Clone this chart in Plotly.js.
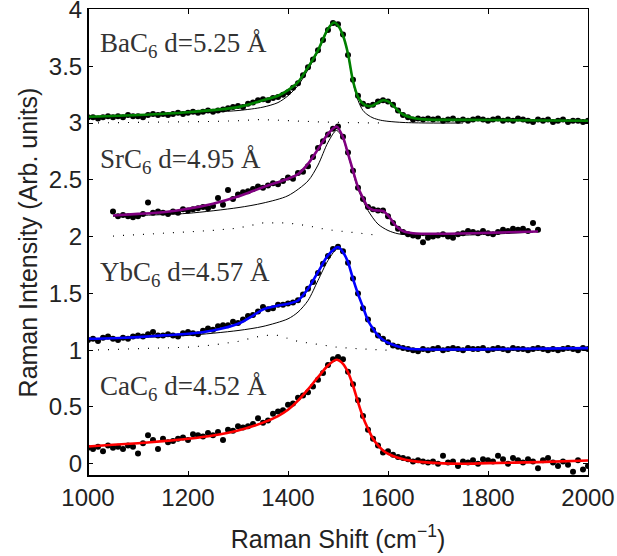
<!DOCTYPE html>
<html>
<head>
<meta charset="utf-8">
<script src="https://cdn.plot.ly/plotly-3.0.1.min.js"></script>
<style>html,body{margin:0;padding:0;background:#fff;}#chart{width:617px;height:556px;}</style>
</head>
<body>
<div id="chart"></div>
<script>
// ---------- data ----------
const gridShift = [1000,1010,1020,1030,1040,1050,1060,1070,1080,1090,1100,1110,1120,1130,1140,1150,1160,1170,1180,1190,1200,1210,1220,1230,1240,1250,1260,1270,1280,1290,1300,1310,1320,1330,1340,1350,1360,1370,1380,1390,1400,1410,1420,1430,1440,1450,1460,1470,1480,1490,1500,1510,1520,1530,1540,1550,1560,1570,1580,1590,1600,1610,1620,1630,1640,1650,1660,1670,1680,1690,1700,1710,1720,1730,1740,1750,1760,1770,1780,1790,1800,1810,1820,1830,1840,1850,1860,1870,1880,1890,1900,1910,1920,1930,1940,1950,1960,1970,1980,1990,2000];

// BaC6
const baData = [3.05,3.05,3.04,3.05,3.06,3.05,3.06,3.05,3.07,3.06,3.06,3.05,3.07,3.08,3.07,3.08,3.07,3.08,3.09,3.08,3.09,3.10,3.09,3.10,3.11,3.10,3.11,3.12,3.13,3.14,3.15,3.14,3.17,3.18,3.20,3.21,3.20,3.22,3.23,3.25,3.27,3.31,3.35,3.42,3.49,3.56,3.64,3.73,3.82,3.88,3.87,3.78,3.60,3.38,3.24,3.17,3.15,3.16,3.19,3.20,3.19,3.16,3.11,3.07,3.05,3.03,3.04,3.03,3.04,3.03,3.04,3.02,3.03,3.04,3.02,3.03,3.02,3.03,3.04,3.03,3.02,3.03,3.04,3.02,3.03,3.02,3.04,3.03,3.02,3.01,3.03,3.02,3.03,3.01,3.02,3.03,3.01,3.02,3.02,3.01,3.02];
const baFitX = [1000,1100,1200,1300,1350,1380,1400,1420,1440,1460,1480,1492,1500,1510,1520,1530,1540,1550,1560,1570,1580,1590,1600,1610,1620,1630,1650,1680,1750,1850,2000];
const baFitY = [3.055,3.07,3.095,3.14,3.2,3.24,3.29,3.36,3.49,3.64,3.83,3.885,3.86,3.77,3.61,3.37,3.23,3.17,3.15,3.155,3.18,3.2,3.19,3.155,3.11,3.075,3.045,3.03,3.028,3.025,3.02];
const baMainX = [1000,1100,1200,1300,1350,1380,1400,1420,1440,1460,1480,1492,1500,1510,1520,1530,1540,1550,1560,1570,1585,1600,1630,1680,1750];
const baMainY = [3.045,3.06,3.087,3.11,3.14,3.18,3.24,3.33,3.47,3.63,3.82,3.88,3.86,3.77,3.60,3.36,3.20,3.11,3.07,3.045,3.025,3.015,3.005,3.0,3.0];
const baSideX = [1000,1100,1200,1250,1300,1340,1380,1420,1460,1500,1550,1590];
const baSideY = [3.0,3.003,3.008,3.014,3.02,3.03,3.025,3.015,3.01,3.005,3.002,3.0];

// SrC6
const srShift = [1050,1060,1070,1080,1090,1100,1110,1120,1130,1140,1150,1160,1170,1180,1190,1200,1210,1220,1230,1240,1250,1260,1270,1280,1290,1300,1310,1320,1330,1340,1350,1360,1370,1380,1390,1400,1410,1420,1430,1440,1450,1460,1470,1480,1490,1500,1510,1520,1530,1540,1550,1560,1570,1580,1590,1600,1610,1620,1630,1640,1650,1660,1670,1680,1690,1700,1710,1720,1730,1740,1750,1760,1770,1780,1790,1800,1810,1820,1830,1840,1850,1860,1870,1880,1890,1900];
const srData = [2.22,2.18,2.19,2.18,2.17,2.18,2.20,2.30,2.21,2.22,2.21,2.20,2.22,2.21,2.24,2.23,2.24,2.25,2.26,2.25,2.27,2.34,2.28,2.41,2.33,2.37,2.39,2.40,2.42,2.44,2.43,2.45,2.47,2.46,2.49,2.52,2.51,2.56,2.57,2.62,2.70,2.78,2.84,2.90,2.95,2.97,2.88,2.74,2.58,2.43,2.33,2.26,2.24,2.23,2.23,2.18,2.12,2.07,2.04,2.02,2.01,2.00,1.95,1.99,2.00,2.01,2.02,2.00,1.99,2.02,2.03,2.05,2.04,2.03,2.05,2.03,2.02,2.04,2.06,2.05,2.07,2.06,2.07,2.05,2.12,2.06];
const srFitX = [1050,1100,1150,1200,1250,1300,1350,1400,1420,1440,1460,1480,1497,1510,1520,1530,1540,1550,1560,1570,1580,1590,1600,1610,1620,1630,1650,1700,1800,1900];
const srFitY = [2.186,2.20,2.215,2.245,2.29,2.353,2.435,2.51,2.55,2.64,2.77,2.905,2.97,2.875,2.73,2.58,2.435,2.34,2.26,2.235,2.23,2.225,2.186,2.127,2.077,2.048,2.03,2.025,2.033,2.045];
const srMainX = [1050,1100,1200,1300,1350,1400,1440,1460,1480,1497,1510,1520,1540,1560,1580,1600,1620,1650,1700,1800,1890];
const srMainY = [2.18,2.186,2.205,2.255,2.295,2.36,2.49,2.63,2.83,2.935,2.86,2.72,2.42,2.23,2.11,2.054,2.025,2.012,2.008,2.02,2.04];
const srSideX = [1050,1100,1150,1200,1250,1300,1350,1400,1440,1480,1520,1560,1585];
const srSideY = [2.005,2.016,2.027,2.04,2.054,2.075,2.12,2.12,2.095,2.06,2.04,2.02,2.01];

// YbC6
const ybData = [1.09,1.10,1.08,1.11,1.12,1.10,1.09,1.11,1.10,1.12,1.13,1.12,1.14,1.16,1.13,1.13,1.14,1.13,1.12,1.15,1.16,1.15,1.14,1.17,1.19,1.18,1.21,1.22,1.22,1.25,1.24,1.27,1.30,1.31,1.34,1.38,1.36,1.37,1.40,1.40,1.41,1.42,1.44,1.49,1.54,1.60,1.68,1.76,1.83,1.89,1.91,1.87,1.77,1.63,1.50,1.37,1.27,1.18,1.13,1.10,1.07,1.04,1.03,1.02,1.01,1.00,0.99,1.01,1.00,1.01,1.02,1.00,1.01,1.02,1.01,1.00,1.02,1.01,1.01,1.02,1.00,1.01,1.02,1.01,1.00,1.02,1.01,1.01,1.00,1.01,1.02,1.01,1.00,1.01,1.00,1.01,1.02,1.01,1.00,1.02,1.01];
const ybFitX = [1000,1050,1100,1150,1200,1250,1300,1330,1350,1380,1400,1420,1440,1460,1480,1500,1510,1520,1530,1540,1550,1560,1570,1580,1590,1600,1620,1640,1700,1850,2000];
const ybFitY = [1.10,1.105,1.115,1.13,1.144,1.173,1.232,1.305,1.358,1.393,1.408,1.437,1.54,1.687,1.834,1.907,1.863,1.775,1.628,1.496,1.379,1.261,1.188,1.129,1.092,1.065,1.033,1.012,1.006,1.01,1.018];
const ybMainX = [1000,1100,1200,1300,1350,1400,1420,1440,1460,1480,1500,1510,1520,1530,1540,1550,1560,1570,1580,1590,1600,1620,1640,1700,2000];
const ybMainY = [1.094,1.11,1.13,1.173,1.209,1.276,1.335,1.437,1.614,1.79,1.90,1.86,1.77,1.625,1.49,1.375,1.257,1.184,1.125,1.088,1.06,1.028,1.008,1.0,1.005];
const ybSideX = [1000,1100,1200,1250,1300,1350,1380,1420,1460,1500,1550,1600];
const ybSideY = [1.0,1.01,1.026,1.045,1.077,1.13,1.13,1.077,1.048,1.025,1.01,1.0];

// CaC6
const caData = [0.14,0.13,0.15,0.11,0.16,0.14,0.15,0.13,0.16,0.15,0.09,0.18,0.25,0.21,0.13,0.22,0.19,0.20,0.22,0.23,0.21,0.26,0.25,0.24,0.27,0.25,0.28,0.21,0.30,0.29,0.33,0.32,0.33,0.35,0.40,0.36,0.38,0.44,0.46,0.47,0.52,0.53,0.58,0.60,0.63,0.68,0.74,0.80,0.87,0.92,0.94,0.92,0.81,0.70,0.56,0.42,0.30,0.22,0.16,0.10,0.11,0.08,0.06,0.05,0.04,0.02,0.03,0.02,0.01,0.02,0.00,0.07,0.01,0.02,-0.02,0.02,0.01,0.03,0.00,0.04,0.03,0.02,0.07,0.04,0.00,0.05,0.03,0.01,0.04,0.02,-0.04,0.03,0.05,0.01,-0.02,0.02,-0.01,-0.07,0.03,-0.05,-0.02];
const caFitX = [1000,1050,1100,1150,1200,1250,1300,1350,1380,1400,1420,1440,1460,1480,1497,1510,1520,1530,1540,1550,1560,1570,1580,1590,1600,1620,1650,1700,1750,1800,1900,2000];
const caFitY = [0.152,0.167,0.181,0.199,0.22,0.249,0.293,0.362,0.42,0.475,0.555,0.655,0.762,0.865,0.915,0.88,0.806,0.689,0.542,0.41,0.308,0.22,0.161,0.117,0.088,0.053,0.023,0.005,0.0,0.005,0.014,0.029];

const labels = ['BaC<sub>6</sub> d=5.25 Å','SrC<sub>6</sub> d=4.95 Å','YbC<sub>6</sub> d=4.57 Å','CaC<sub>6</sub> d=4.52 Å'];
const labelY = [3.69,2.67,1.67,0.665];
const xTicks = [1000,1200,1400,1600,1800,2000];
const yTicks = [0,0.5,1,1.5,2,2.5,3,3.5,4];
const yTickText = ['0','0.5','1','1.5','2','2.5','3','3.5','4'];

// ---------- traces ----------
const traces = [];
function dotted(x,y){ traces.push({x:x,y:y,mode:'lines',line:{color:'#000',width:1.2,dash:'1px,9px'},hoverinfo:'skip'}); }
function pts(x,y){ traces.push({x:x,y:y,mode:'markers',marker:{color:'#000',size:6},hoverinfo:'skip'}); }
function thin(x,y){ traces.push({x:x,y:y,mode:'lines',line:{color:'#000',width:1,shape:'spline',smoothing:0.8},hoverinfo:'skip'}); }
function fit(x,y,c){ traces.push({x:x,y:y,mode:'lines',line:{color:c,width:2.6,shape:'spline',smoothing:0.8},hoverinfo:'skip'}); }

dotted(baSideX,baSideY); dotted(srSideX,srSideY); dotted(ybSideX,ybSideY);
pts(gridShift,baData); pts(srShift,srData); pts(gridShift,ybData); pts(gridShift,caData);
thin(baMainX,baMainY); thin(srMainX,srMainY); thin(ybMainX,ybMainY);
fit(baFitX,baFitY,'#008000'); fit(srFitX,srFitY,'#800080'); fit(ybFitX,ybFitY,'#0000ff'); fit(caFitX,caFitY,'#ff0000');

const annotations = labels.map((t,i)=>({
  x:1019, y:labelY[i], xref:'x', yref:'y', xanchor:'left', yanchor:'middle',
  text:t, showarrow:false, font:{family:'Liberation Serif, serif', size:27, color:'#333'}
}));

const tickFont = {family:'Liberation Sans, Arial, sans-serif', size:24, color:'#222'};
const titleFont = {family:'Liberation Sans, Arial, sans-serif', size:25, color:'#222'};
const layout = {
  width:617, height:556,
  margin:{l:88, r:29, t:9, b:80},
  paper_bgcolor:'#fff', plot_bgcolor:'#fff',
  showlegend:false,
  xaxis:{range:[1000,2000], tickvals:xTicks, ticks:'inside', ticklen:5, tickwidth:1, tickcolor:'#000',
         showline:true, linecolor:'#000', linewidth:1, mirror:'ticks', showgrid:false, zeroline:false,
         tickfont:tickFont, ticklabeloverflow:'allow',
         title:{text:'Raman Shift (cm<sup>−1</sup>)', font:titleFont, standoff:20}},
  yaxis:{range:[-0.108,4.004], tickvals:yTicks, ticktext:yTickText, ticks:'inside', ticklen:5, tickwidth:1, tickcolor:'#000',
         showline:true, linecolor:'#000', linewidth:1, mirror:'ticks', showgrid:false, zeroline:false,
         tickfont:tickFont, ticklabeloverflow:'allow',
         title:{text:'Raman Intensity (Arb. units)', font:titleFont, standoff:4}},
  annotations:annotations,
  shapes:[
    {type:'line', xref:'paper', yref:'paper', x0:0, x1:0, y0:0, y1:1, line:{color:'#000', width:2}},
    {type:'line', xref:'paper', yref:'paper', x0:0, x1:1, y0:0, y1:0, line:{color:'#000', width:2}}
  ]
};
Plotly.newPlot('chart', traces, layout, {staticPlot:true, displayModeBar:false});
</script>
</body>
</html>
